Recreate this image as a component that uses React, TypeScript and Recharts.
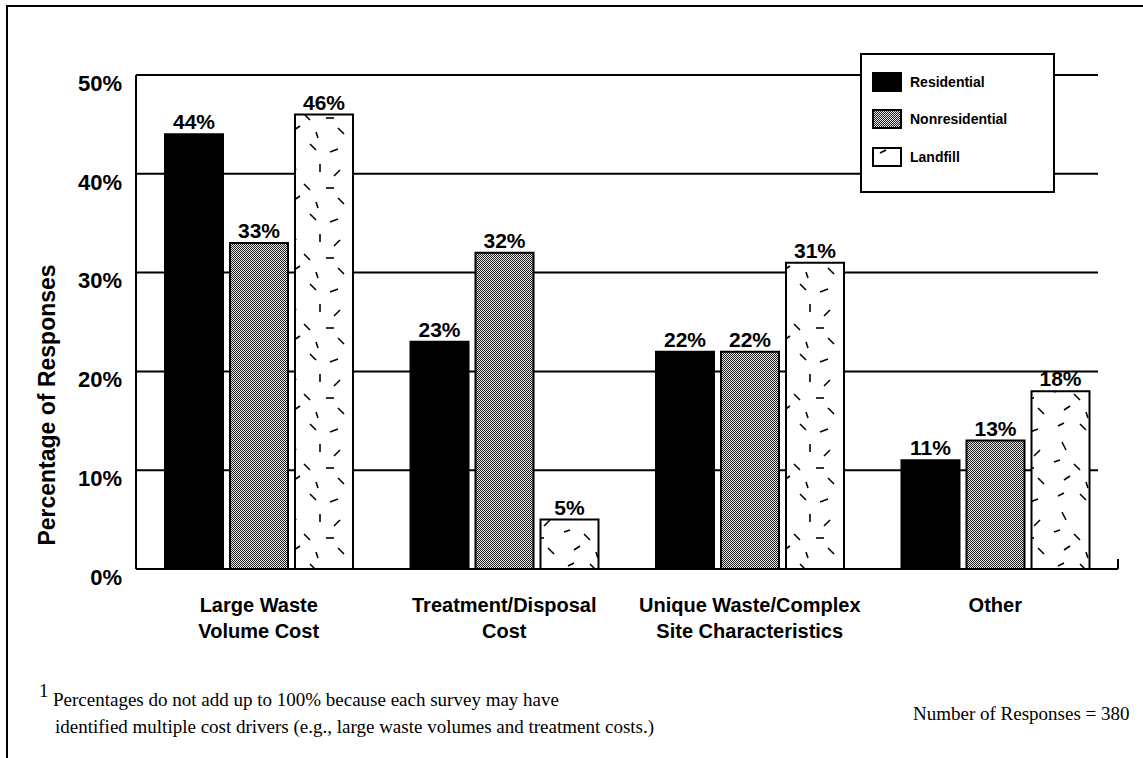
import React from 'react';
import { BarChart, Bar, XAxis, YAxis, CartesianGrid, Legend, LabelList } from 'recharts';

const categories = [
  'Large Waste\nVolume Cost',
  'Treatment/Disposal\nCost',
  'Unique Waste/Complex\nSite Characteristics',
  'Other',
];
const seriesNames = ['Residential', 'Nonresidential', 'Landfill'];
const residential = [44, 23, 22, 11];
const nonresidential = [33, 32, 22, 13];
const landfill = [46, 5, 31, 18];
const yTicks = [0, 10, 20, 30, 40, 50];

const data = categories.map((category, i) => ({
  category,
  residential: residential[i],
  nonresidential: nonresidential[i],
  landfill: landfill[i],
}));

const SANS = '"Liberation Sans", Arial, Helvetica, sans-serif';
const SERIF = '"Liberation Serif", "Times New Roman", serif';

// short random-looking strokes for the landfill texture
const dashes: [number, number, number, number][] = [
  [8, 6, 14, 3], [30, 4, 36, 10], [50, 12, 58, 9], [12, 22, 16, 30],
  [40, 24, 40, 32], [60, 30, 54, 36], [4, 42, 10, 40], [24, 44, 30, 50],
  [46, 48, 54, 48], [14, 60, 20, 56], [36, 62, 38, 68], [58, 58, 64, 64],
];

const Patterns = () => (
  <svg width={0} height={0} style={{ position: 'absolute' }}>
    <defs>
      <pattern id="nonres" width={2} height={2} patternUnits="userSpaceOnUse">
        <rect width={2} height={2} fill="#e4e4e4" />
        <rect x={0} y={0} width={1} height={1} fill="#222" />
        <rect x={1} y={1} width={1} height={1} fill="#222" />
      </pattern>
      <pattern id="landfill" width={70} height={70} patternUnits="userSpaceOnUse">
        <rect width={70} height={70} fill="#fff" />
        {dashes.map(([x1, y1, x2, y2], i) => (
          <line key={i} x1={x1} y1={y1} x2={x2} y2={y2} stroke="#000" strokeWidth={1.6} />
        ))}
      </pattern>
    </defs>
  </svg>
);

const CategoryTick = ({ x, y, payload }: any) => {
  const lines = String(payload.value).split('\n');
  return (
    <text x={x} y={y + 43} textAnchor="middle" fontFamily={SANS} fontWeight="bold" fontSize={20} fill="#000">
      {lines.map((l, i) => (
        <tspan key={i} x={x} dy={i === 0 ? 0 : 26}>{l}</tspan>
      ))}
    </text>
  );
};

const GridLine = (props: any) => (
  <line x1={props.x1} y1={props.y1} x2={props.x2 - 20} y2={props.y2} stroke="#000" strokeWidth={2} />
);

const LegendBox = ({ payload }: any) => {
  const items = [...(payload || [])].sort(
    (a: any, b: any) => seriesNames.indexOf(a.value) - seriesNames.indexOf(b.value)
  );
  return (
    <div style={{ border: '2px solid #000', background: '#fff', width: 191, height: 128, boxSizing: 'content-box', paddingTop: 8 }}>
      {items.map((p: any) => (
        <div key={p.value} style={{ display: 'flex', alignItems: 'center', height: 37.5, paddingLeft: 10 }}>
          <svg width={30} height={20} style={{ marginRight: 8 }}>
            <rect x={1} y={1} width={28} height={18} fill={p.color} stroke="#000" strokeWidth={2} />
          </svg>
          <span style={{ fontFamily: SANS, fontWeight: 'bold', fontSize: 14, color: '#000' }}>{p.value}</span>
        </div>
      ))}
    </div>
  );
};

const labelStyle = { fontFamily: SANS, fontWeight: 'bold', fontSize: 21, fill: '#000' };

export default function App() {
  return (
    <div style={{ position: 'absolute', left: 0, top: 0, width: 1143, height: 758, background: '#fff' }}>
      <Patterns />
      <BarChart
        width={1143}
        height={758}
        data={data}
        margin={{ top: 75, right: 25, bottom: 129, left: 66 }}
        barGap={7}
        barSize={58}
      >
        <CartesianGrid vertical={false} horizontal={GridLine} />
        <XAxis
          dataKey="category"
          axisLine={{ stroke: '#000', strokeWidth: 2 }}
          tickLine={false}
          tickSize={0}
          tickMargin={0}
          height={60}
          interval={0}
          tick={<CategoryTick />}
        />
        <YAxis
          domain={[0, 50]}
          ticks={yTicks}
          width={70}
          axisLine={{ stroke: '#000', strokeWidth: 2 }}
          tickLine={false}
          tickSize={0}
          tickMargin={14}
          tickFormatter={(v: number) => `${v}%`}
          tick={{ fontFamily: SANS, fontWeight: 'bold', fontSize: 22, fill: '#000', dy: 8 }}
        />
        <Legend
          layout="vertical"
          align="center"
          verticalAlign="middle"
          content={<LegendBox />}
          wrapperStyle={{ position: 'absolute', left: 860, top: 53, width: 195 }}
        />
        <Bar dataKey="residential" name="Residential" fill="#000" stroke="#000" strokeWidth={2} isAnimationActive={false}>
          <LabelList dataKey="residential" position="top" offset={5} formatter={(v: any) => `${v}%`} style={labelStyle} />
        </Bar>
        <Bar dataKey="nonresidential" name="Nonresidential" fill="url(#nonres)" stroke="#000" strokeWidth={2} isAnimationActive={false}>
          <LabelList dataKey="nonresidential" position="top" offset={5} formatter={(v: any) => `${v}%`} style={labelStyle} />
        </Bar>
        <Bar dataKey="landfill" name="Landfill" fill="url(#landfill)" stroke="#000" strokeWidth={2} isAnimationActive={false}>
          <LabelList dataKey="landfill" position="top" offset={5} formatter={(v: any) => `${v}%`} style={labelStyle} />
        </Bar>
      </BarChart>
      <svg width={1143} height={758} style={{ position: 'absolute', left: 0, top: 0, pointerEvents: 'none' }}>
        <line x1={6} y1={6} x2={1143} y2={6} stroke="#000" strokeWidth={2} />
        <line x1={7} y1={6} x2={7} y2={758} stroke="#000" strokeWidth={2} />
        <line x1={1118} y1={559} x2={1118} y2={569} stroke="#000" strokeWidth={2} />
        <text
          transform="translate(55,405) rotate(-90)"
          textAnchor="middle"
          fontFamily={SANS}
          fontWeight="bold"
          fontSize={23}
          fill="#000"
        >
          Percentage of Responses
        </text>
        <text x={39} y={697} fontFamily={SERIF} fontSize={19} fill="#000">1</text>
        <text x={53} y={706} fontFamily={SERIF} fontSize={19} fill="#000">
          Percentages do not add up to 100% because each survey may have
        </text>
        <text x={55} y={733} fontFamily={SERIF} fontSize={19} fill="#000">
          identified multiple cost drivers (e.g., large waste volumes and treatment costs.)
        </text>
        <text x={913} y={720} fontFamily={SERIF} fontSize={19} fill="#000">
          Number of Responses = 380
        </text>
      </svg>
    </div>
  );
}
